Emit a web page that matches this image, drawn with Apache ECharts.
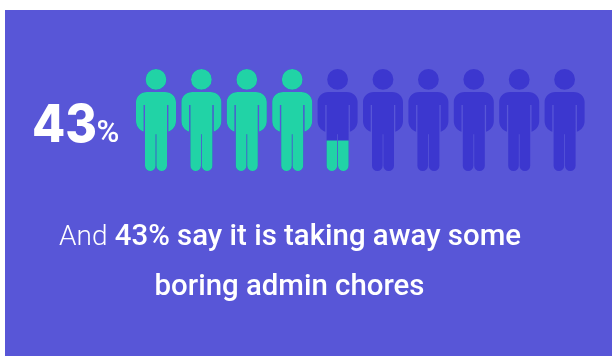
<!DOCTYPE html>
<html>
<head>
<meta charset="utf-8">
<style>
  html, body { margin: 0; padding: 0; background: #ffffff; }
  #chart { width: 612px; height: 356px; }
</style>
</head>
<body>
<div id="chart"></div>
<script src="https://cdn.jsdelivr.net/npm/echarts@6/dist/echarts.min.js"></script>
<script>
// Ten figures stand for 100%; each value is how much of that figure is filled.
const people = ['1', '2', '3', '4', '5', '6', '7', '8', '9', '10'];
const wholePerson = [1, 1, 1, 1, 1, 1, 1, 1, 1, 1];
const filledShare = [1, 1, 1, 1, 0.3, 0, 0, 0, 0, 0];

const headlineValue = '43';
const headlineUnit = '%';
const captionLead = 'And';
const captionStrong = '43% say it is taking away some';
const captionSecond = 'boring admin chores';

const panelColor = '#5856D7';
const filledColor = '#21D3A6';
const emptyColor = '#3C37CF';

// Standing figure: head, then shoulders, arms and two legs, in a 40 x 102 box.
const personPath = 'path://' +
  'M20 0 A10.4 10.4 0 1 1 19.99 0 Z ' +
  'M11 23 H29 C35.5 23 40 27.5 40 33 V52 C40 57 37 61 32.3 62.7 V36 H31 V96.5 ' +
  'A5.3 5.3 0 0 1 20.4 96.5 V65 H19.6 V96.5 A5.3 5.3 0 0 1 9 96.5 V36 H7.7 V62.7 ' +
  'C3 61 0 57 0 52 V33 C0 27.5 4.5 23 11 23 Z';

const chart = echarts.init(document.getElementById('chart'), null, { renderer: 'canvas' });

const figureSeries = (data, color, z) => ({
  type: 'pictorialBar',
  data,
  z,
  symbol: personPath,
  symbolSize: [40, 102],
  symbolBoundingData: 1,
  symbolClip: true,
  symbolPosition: 'start',
  barWidth: 40,
  barGap: '-100%',
  itemStyle: { color },
  silent: true,
  animation: false
});

chart.setOption({
  animation: false,
  backgroundColor: '#ffffff',
  grid: { left: 133.3, top: 69, width: 454, height: 102 },
  xAxis: { type: 'category', data: people, show: false },
  yAxis: { type: 'value', min: 0, max: 1, show: false },
  series: [
    figureSeries(wholePerson, emptyColor, 2),
    figureSeries(filledShare, filledColor, 3)
  ],
  graphic: [
    { type: 'rect', z: -10, silent: true,
      shape: { x: 5, y: 10, width: 607, height: 346 },
      style: { fill: panelColor } },
    { type: 'text', z: 5, silent: true, x: 32, y: 126, scaleX: 0.93,
      style: { text: headlineValue, fill: '#ffffff',
        align: 'left', verticalAlign: 'middle',
        font: '800 52px Inter' } },
    { type: 'text', z: 5, silent: true, x: 96.5, y: 134,
      style: { text: headlineUnit, fill: '#ffffff', align: 'left', verticalAlign: 'middle',
        font: '500 31px Roboto' } },
    { type: 'text', z: 5, silent: true, x: 59, y: 238,
      style: {
        text: '{lead|' + captionLead + '}{strong| ' + captionStrong + '}',
        align: 'left', verticalAlign: 'middle',
        rich: {
          lead: { font: '300 28px Roboto', fill: '#ffffff' },
          strong: { font: '500 29.4px Roboto', fill: '#ffffff' }
        }
      } },
    { type: 'text', z: 5, silent: true, x: 289.5, y: 288,
      style: { text: captionSecond, fill: '#ffffff', align: 'center', verticalAlign: 'middle',
        font: '500 29.4px Roboto' } }
  ]
});
</script>
</body>
</html>
